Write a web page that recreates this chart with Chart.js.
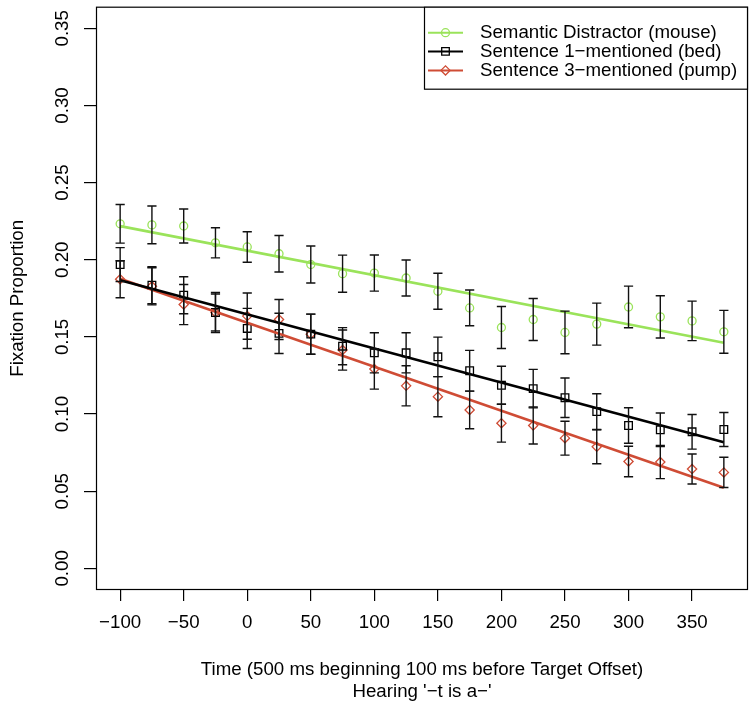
<!DOCTYPE html>
<html>
<head>
<meta charset="utf-8">
<script src="https://cdn.jsdelivr.net/npm/chart.js@4.4.1/dist/chart.umd.min.js"></script>
<style>
html,body{margin:0;padding:0;background:#fff;}
#wrap{width:756px;height:709px;}
</style>
</head>
<body>
<div id="wrap"><canvas id="fixation_chart" width="756" height="709"></canvas></div>
<script>
// time bins (ms)
var timeBins = [-100,-75,-50,-25,0,25,50,75,100,125,150,175,200,225,250,275,300,325,350,375];

// Semantic Distractor (mouse)
var semanticVals = [0.2233,0.2226,0.2219,0.2110,0.2083,0.2039,0.1969,0.1910,0.1914,0.1882,
                    0.1796,0.1688,0.1561,0.1613,0.1529,0.1583,0.1694,0.1630,0.1604,0.1533];
var semanticErr  = [0.0125,0.0122,0.0110,0.0098,0.0099,0.0118,0.0120,0.0120,0.0117,0.0117,
                    0.0117,0.0116,0.0136,0.0136,0.0138,0.0136,0.0135,0.0137,0.0128,0.0139];

// Sentence 1-mentioned (bed)
var sent1Vals = [0.1969,0.1835,0.1770,0.1658,0.1555,0.1523,0.1518,0.1440,0.1397,0.1397,
                 0.1371,0.1281,0.1187,0.1165,0.1106,0.1016,0.0926,0.0898,0.0885,0.0900];
var sent1Err  = [0.0110,0.0120,0.0120,0.0120,0.0130,0.0130,0.0130,0.0120,0.0130,0.0130,
                 0.0128,0.0132,0.0123,0.0125,0.0128,0.0116,0.0115,0.0109,0.0112,0.0110];

// Sentence 3-mentioned (pump)
var sent3Vals = [0.1874,0.1828,0.1710,0.1658,0.1635,0.1613,0.1518,0.1415,0.1292,0.1183,
                 0.1113,0.1027,0.0941,0.0926,0.0844,0.0788,0.0693,0.0689,0.0644,0.0622];
var sent3Err  = [0.0120,0.0120,0.0130,0.0130,0.0150,0.0130,0.0130,0.0130,0.0130,0.0130,
                 0.0130,0.0122,0.0123,0.0120,0.0110,0.0110,0.0099,0.0107,0.0097,0.0098];

// fitted lines, read at the two ends
var fitX        = [-100, 375];
var semanticFit = [0.2218, 0.1462];
var sent1Fit    = [0.1867, 0.0818];
var sent3Fit    = [0.1877, 0.0522];

var seriesNames = ["Semantic Distractor (mouse)", "Sentence 1\u2212mentioned (bed)", "Sentence 3\u2212mentioned (pump)"];
var xTickVals = [-100,-50,0,50,100,150,200,250,300,350];
var yTickVals = [0,0.05,0.10,0.15,0.20,0.25,0.30,0.35];

var colGreen = "#9ae35a";
var colBlack = "#000000";
var colRed   = "#cf4c35";
var fontFam  = "'Liberation Sans', Arial, Helvetica, sans-serif";
var fontSize = 18.7;

function toPoints(xs, ys){
  var arr = [];
  for (var i = 0; i < xs.length; i++){
    arr.push({x: xs[i], y: ys[i]});
  }
  return arr;
}

function fmtMinus(v){
  return String(v).replace("-", "\u2212");
}

var errorBarsPlugin = {
  id: "errorBars",
  afterDatasetsDraw: function(chart){
    var ctx = chart.ctx;
    var xs = chart.scales.x, ys = chart.scales.y;
    var groups = [[semanticVals, semanticErr], [sent1Vals, sent1Err], [sent3Vals, sent3Err]];
    ctx.save();
    ctx.strokeStyle = "#111";
    ctx.lineWidth = 1.4;
    for (var g = 0; g < groups.length; g++){
      var vals = groups[g][0], errs = groups[g][1];
      for (var i = 0; i < timeBins.length; i++){
        var px = xs.getPixelForValue(timeBins[i]);
        var top = ys.getPixelForValue(vals[i] + errs[i]);
        var bot = ys.getPixelForValue(vals[i] - errs[i]);
        ctx.beginPath();
        ctx.moveTo(px, top); ctx.lineTo(px, bot);
        ctx.moveTo(px - 4.6, top); ctx.lineTo(px + 4.6, top);
        ctx.moveTo(px - 4.6, bot); ctx.lineTo(px + 4.6, bot);
        ctx.stroke();
      }
    }
    ctx.restore();
  }
};

function drawMarker(ctx, style, x, y, color){
  ctx.save();
  ctx.strokeStyle = color;
  ctx.lineWidth = 1.3;
  ctx.beginPath();
  if (style == "circle"){
    ctx.arc(x, y, 4, 0, Math.PI * 2);
  } else if (style == "rect"){
    ctx.rect(x - 3.8, y - 3.8, 7.6, 7.6);
  } else {
    ctx.moveTo(x - 4.6, y); ctx.lineTo(x, y - 4.6); ctx.lineTo(x + 4.6, y); ctx.lineTo(x, y + 4.6); ctx.closePath();
  }
  ctx.stroke();
  ctx.restore();
}

var framePlugin = {
  id: "frame",
  afterDraw: function(chart){
    var ctx = chart.ctx;
    var a = chart.chartArea;
    var ys = chart.scales.y;
    ctx.save();
    // plot box
    ctx.strokeStyle = "#000";
    ctx.lineWidth = 1.2;
    ctx.strokeRect(a.left + 0.5, a.top + 0.5, a.right - a.left - 1, a.bottom - a.top - 1);

    // y tick labels, rotated as in R
    ctx.fillStyle = "#000";
    ctx.font = fontSize + "px " + fontFam;
    ctx.textAlign = "center";
    ctx.textBaseline = "middle";
    for (var i = 0; i < yTickVals.length; i++){
      var py = ys.getPixelForValue(yTickVals[i]);
      ctx.save();
      ctx.translate(63, py);
      ctx.rotate(-Math.PI / 2);
      ctx.fillText(yTickVals[i].toFixed(2), 0, 0);
      ctx.restore();
    }

    // legend
    var lx = 424, ly = a.top, lw = a.right - 424, lh = 82;
    ctx.fillStyle = "#fff";
    ctx.fillRect(lx, ly, lw, lh);
    ctx.strokeRect(lx + 0.5, ly + 0.5, lw - 1, lh);
    var rows = [26, 44.7, 63.7];
    var cols = [colGreen, colBlack, colRed];
    var styles = ["circle", "rect", "diamond"];
    for (var r = 0; r < rows.length; r++){
      var ry = ly + rows[r];
      ctx.strokeStyle = cols[r];
      ctx.lineWidth = 2;
      ctx.beginPath();
      ctx.moveTo(lx + 4, ry); ctx.lineTo(lx + 39, ry);
      ctx.stroke();
      drawMarker(ctx, styles[r], lx + 21.5, ry, cols[r]);
      ctx.fillStyle = "#000";
      ctx.textAlign = "left";
      ctx.fillText(seriesNames[r], lx + 56, ry);
    }
    ctx.restore();
  }
};

function showFixationChart(){
  Chart.defaults.font.family = fontFam;
  Chart.defaults.color = "#000";

  var config = {
    type: "scatter",
    data: {
      datasets: [
        { label: seriesNames[0] + " fit", data: toPoints(fitX, semanticFit), showLine: true,
          borderColor: colGreen, borderWidth: 2.6, pointRadius: 0 },
        { label: seriesNames[1] + " fit", data: toPoints(fitX, sent1Fit), showLine: true,
          borderColor: colBlack, borderWidth: 2.6, pointRadius: 0 },
        { label: seriesNames[2] + " fit", data: toPoints(fitX, sent3Fit), showLine: true,
          borderColor: colRed, borderWidth: 2.6, pointRadius: 0 },
        { label: seriesNames[0], data: toPoints(timeBins, semanticVals), showLine: false,
          pointStyle: "circle", pointRadius: 4, borderColor: colGreen, borderWidth: 1.3,
          backgroundColor: "rgba(0,0,0,0)" },
        { label: seriesNames[1], data: toPoints(timeBins, sent1Vals), showLine: false,
          pointStyle: "rect", pointRadius: 5.4, borderColor: colBlack, borderWidth: 1.3,
          backgroundColor: "rgba(0,0,0,0)" },
        { label: seriesNames[2], data: toPoints(timeBins, sent3Vals), showLine: false,
          pointStyle: "rectRot", pointRadius: 4.6, borderColor: colRed, borderWidth: 1.3,
          backgroundColor: "rgba(0,0,0,0)" }
      ]
    },
    options: {
      responsive: false,
      animation: false,
      devicePixelRatio: 1,
      layout: { padding: { top: 5, right: 8, left: 0, bottom: 0 } },
      plugins: { legend: { display: false }, tooltip: { enabled: false } },
      scales: {
        x: {
          type: "linear", min: -119, max: 394,
          afterBuildTicks: function(s){ s.ticks = xTickVals.map(function(v){ return {value: v}; }); },
          afterFit: function(s){ s.height = 119; },
          grid: { drawOnChartArea: false, drawTicks: true, tickLength: 11, color: "#000", lineWidth: 1.2 },
          border: { display: false },
          ticks: { color: "#000", font: { size: fontSize }, padding: 11, maxRotation: 0, autoSkip: false,
                   callback: function(v){ return fmtMinus(v); } },
          title: { display: true, color: "#000",
                   text: ["Time (500 ms beginning 100 ms before Target Offset)", "Hearing '\u2212t is a\u2212'"],
                   font: { size: fontSize, lineHeight: 1.16 }, padding: { top: 0, bottom: 6.5 } }
        },
        y: {
          type: "linear", min: -0.014, max: 0.364,
          afterBuildTicks: function(s){ s.ticks = yTickVals.map(function(v){ return {value: v}; }); },
          afterFit: function(s){ s.width = 96; },
          grid: { drawOnChartArea: false, drawTicks: true, tickLength: 12, color: "#000", lineWidth: 1.2 },
          border: { display: false },
          ticks: { display: false },
          title: { display: true, color: "#000", text: "Fixation Proportion",
                   font: { size: fontSize }, padding: { top: 7, bottom: 0 } }
        }
      }
    },
    plugins: [errorBarsPlugin, framePlugin]
  };

  new Chart(document.getElementById("fixation_chart").getContext("2d"), config);
}

document.addEventListener("DOMContentLoaded", showFixationChart, false);
</script>
</body>
</html>
